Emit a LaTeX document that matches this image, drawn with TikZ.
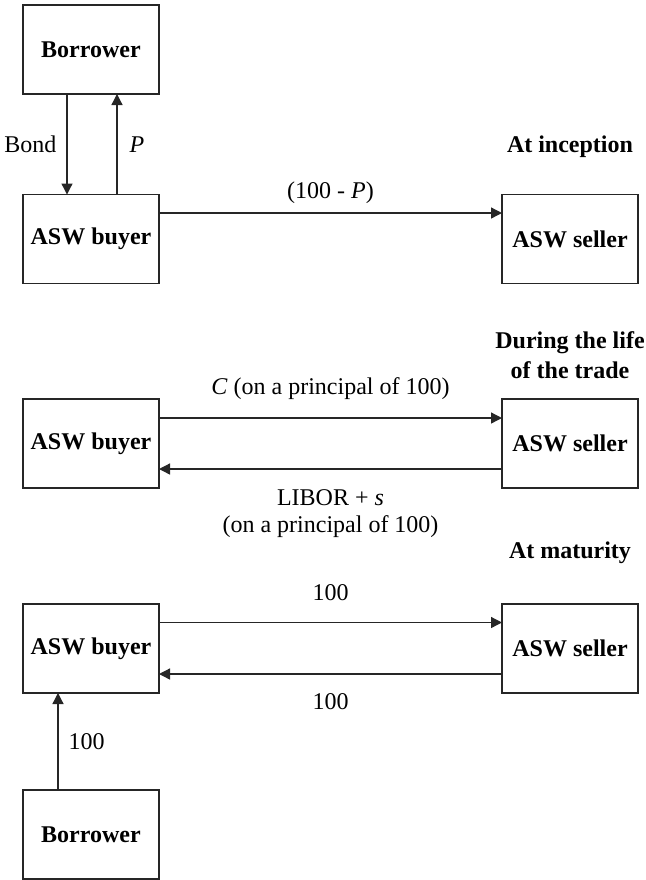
\documentclass[tikz,border=0pt]{standalone}
\usepackage{fontspec}
\setmainfont{Liberation Serif}
\usetikzlibrary{positioning, arrows.meta}

\begin{document}
\begin{tikzpicture}[x=0.5pt, y=-0.5pt,
  font=\fontsize{12}{13.5}\selectfont,
  party/.style={draw=black!85, line width=0.65pt, minimum width=68pt,
    minimum height=44.5pt, inner sep=0pt, outer sep=0pt,
    font=\fontsize{12}{13.5}\selectfont\bfseries},
  stage/.style={align=center, inner sep=0pt,
    font=\fontsize{12}{15}\selectfont\bfseries},
  flow/.style={draw=black!85, line width=0.65pt,
    -{Triangle[length=5.5pt, width=5.5pt]}},
  amount/.style={inner sep=0pt, align=center}]
  \useasboundingbox (0,0) rectangle (646,880);

  % at inception
  \node[party] (bor1) at (91,49.5) {Borrower};
  \node[party] (buy1) at (91,239) {ASW buyer};
  \node[party] (sel1) at (570,239) {ASW seller};
  \node[stage, anchor=base] (inc) at ([yshift=21pt]sel1.north) {At inception};
  \draw[flow] ([xshift=-12pt]bor1.south) -- ([xshift=-12pt]buy1.north)
    node[amount, midway, left=5pt] {Bond};
  \draw[flow] ([xshift=13pt]buy1.north) -- ([xshift=13pt]bor1.south)
    node[amount, midway, right=6pt] {\textit{P}};
  \draw[flow] ([yshift=13pt]buy1.east) -- ([yshift=13pt]sel1.west)
    node[amount, midway, yshift=10pt] {(100 - \textit{P})};

  % during the life of the trade
  \node[party] (buy2) at (91,443.5) {ASW buyer};
  \node[party] (sel2) at (570,443.5) {ASW seller};
  \node[stage, anchor=south] (life) at ([yshift=10pt]sel2.north)
    {During the life\\of the trade};
  \draw[flow] ([yshift=12.75pt]buy2.east) -- ([yshift=12.75pt]sel2.west)
    node[amount, midway, yshift=14.5pt] {\textit{C} (on a principal of 100)};
  \draw[flow] ([yshift=-12.75pt]sel2.west) -- ([yshift=-12.75pt]buy2.east)
    node[amount, midway, below=10pt] {LIBOR + \textit{s}\\(on a principal of 100)};

  % at maturity
  \node[party] (buy3) at (91,648.5) {ASW buyer};
  \node[party] (sel3) at (570,648.5) {ASW seller};
  \node[party] (bor2) at (91,834.5) {Borrower};
  \node[stage, anchor=base] (mat) at ([yshift=23pt]sel3.north) {At maturity};
  \draw[flow] ([yshift=13pt]buy3.east) -- ([yshift=13pt]sel3.west)
    node[amount, midway, yshift=14.75pt] {100};
  \draw[flow] ([yshift=-12.75pt]sel3.west) -- ([yshift=-12.75pt]buy3.east)
    node[amount, midway, yshift=-14pt] {100};
  \draw[flow] ([xshift=-16.5pt]bor2.north) -- ([xshift=-16.5pt]buy3.south)
    node[amount, midway, right=5pt] {100};
\end{tikzpicture}
\end{document}
